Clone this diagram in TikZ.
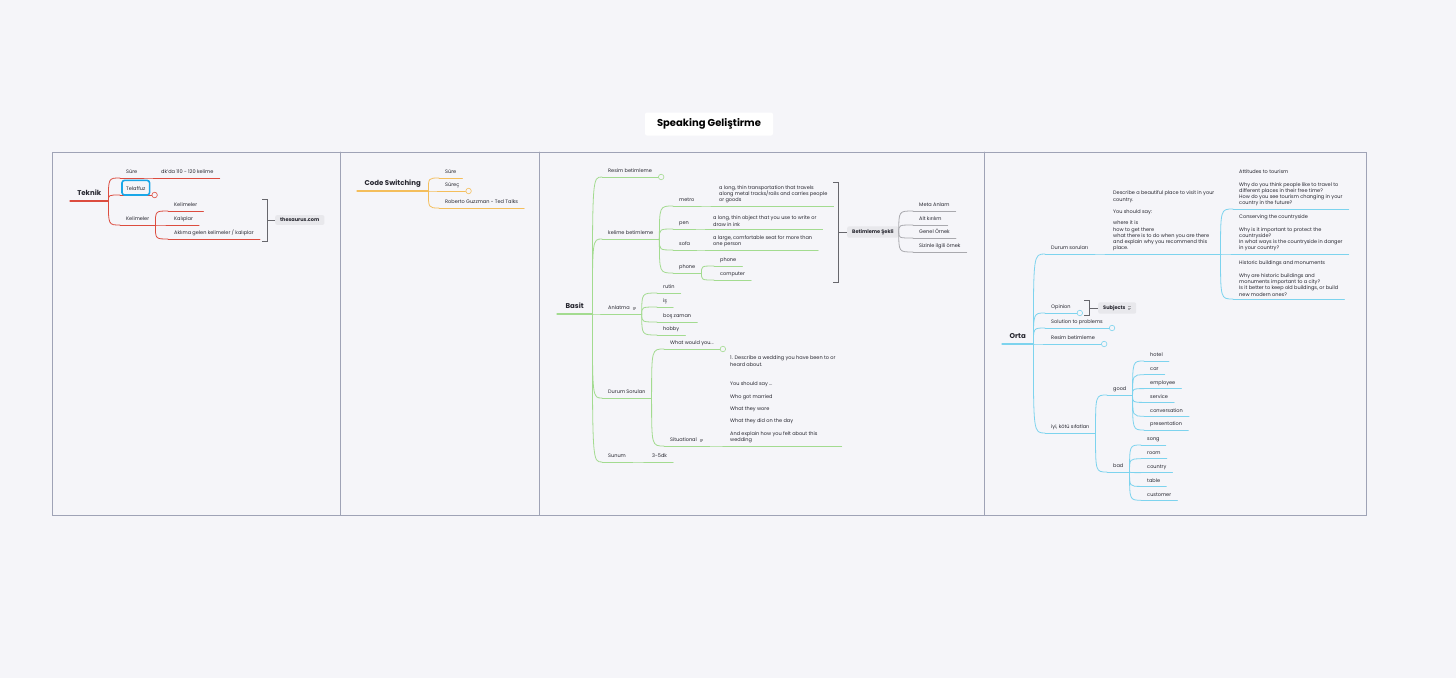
\documentclass[tikz,border=0pt]{standalone}
\usepackage{fontspec}
\setmainfont{Poppins}
\usetikzlibrary{positioning,calc}
\definecolor{bg}{HTML}{F5F5F9}
\definecolor{ink}{HTML}{26262F}
\definecolor{framec}{HTML}{9FA3B6}
\definecolor{cred}{HTML}{DC4C3F}
\definecolor{corange}{HTML}{F4BE5C}
\definecolor{cgreen}{HTML}{A3DB90}
\definecolor{ccyan}{HTML}{7DD3EE}
\definecolor{cgrey}{HTML}{A9A9AE}
\definecolor{boxgrey}{HTML}{E8E8EC}
\definecolor{selblue}{HTML}{1AA7E8}
\newcommand\noteic{\hspace{3pt}{\color{cgrey}\raisebox{.3pt}{\vbox{\hrule width 2.8pt height .4pt\kern.7pt\hrule width 2.8pt height .4pt\kern.7pt\hrule width 1.8pt height .4pt}}}}

\begin{document}
\begin{tikzpicture}[x=1pt, y=-1pt, line cap=round, font=\fontsize{5}{6.3}\selectfont]
  \tikzstyle{topic} = [anchor=south west, inner xsep=6, inner ysep=2.6, text height=3.7, text depth=1.3, text=ink,
                       append after command={(\tikzlastnode.south west) edge[brc] (\tikzlastnode.south east)}]
  \tikzstyle{desc}  = [anchor=south west, inner xsep=6, inner ysep=2.6, text=ink, align=left,
                       append after command={(\tikzlastnode.south west) edge[brc] (\tikzlastnode.south east)}]
  \tikzstyle{root}  = [anchor=south west, inner xsep=0, inner ysep=3.5, text height=5, text depth=1.4, text=ink,
                       font=\fontsize{7}{8}\selectfont\bfseries,
                       append after command={(\tikzlastnode.south west) edge[brc, line width=1.3] (\tikzlastnode.south east)}]
  \tikzstyle{fold}  = [circle, brc, fill=bg, inner sep=0, minimum size=5.5, line width=.6]
  \tikzstyle{sumbox} = [fill=boxgrey, rounded corners=2, inner xsep=5, inner ysep=3, text=ink, font=\fontsize{5}{6}\selectfont\bfseries]
  \tikzstyle{summ}  = [draw=ink!70, line width=.7, line cap=butt]
  \tikzset{br/.style={to path={.. controls (\tikztostart |- \tikztotarget) .. (\tikztotarget)}}}

  \fill[bg] (0,0) rectangle (1456,678);
  \node[fill=white, rounded corners=2, minimum width=128, minimum height=23, text=black,
        font=\fontsize{10}{12}\selectfont\bfseries] (title) at (709,124) {Speaking Geliştirme};
  \draw[framec, line width=.9] (52,152) rectangle (1366,515);
  \foreach \x in {340,539,984} \draw[framec, line width=.9] (\x,152) -- (\x,515);

  % Teknik
  \begin{scope}[brc/.style={draw=cred, line width=.8}]
    \node[root, minimum width=38] (tek)  at (70,201)  {Teknik};
    \node[topic]                  (sure) at (120,178) {Süre};
    \node[topic]                  (dk)   at (155,178) {dk'da 110 - 120 kelime};
    \node[topic]                  (tel)  at (120,195) {Telaffuz};
    \node[fold, right=0pt of tel.south east] (telf) {};
    \node[topic]                  (kel)  at (120,225) {Kelimeler};
    \node[topic]                  (kel1) at (168,211) {Kelimeler};
    \node[topic]                  (kel2) at (168,225) {Kalıplar};
    \node[topic]                  (kel3) at (168,239) {Aklıma gelen kelimeler / kalıplar};
    \draw[selblue, line width=1.6, rounded corners=2.5] ($(tel.south west)+(2,0)$) rectangle ($(tel.north east)+(-2,-4)$);

    \foreach \c in {sure,tel,kel} \draw[brc] (tek.south east) to[br] (\c.south west);
    \draw[brc] (sure.south east) to[br] (dk.south west);
    \foreach \c in {kel1,kel2,kel3} \draw[brc] (kel.south east) to[br] (\c.south west);

    \coordinate (bk1) at (267,220);
    \draw[summ] ($(bk1)+(-5,-21)$) -| ($(bk1)+(0,21)$) -- +(-5,0);
    \node[sumbox, right=8pt of bk1] (thes) {thesaurus.com};
    \draw[summ] (bk1) -- (thes);
  \end{scope}

  % Code Switching
  \begin{scope}[brc/.style={draw=corange, line width=.8}]
    \node[root, minimum width=71] (cs)  at (357,191) {Code Switching};
    \node[topic]                  (cs1) at (439,178) {Süre};
    \node[topic]                  (cs2) at (439,191) {Süreç};
    \node[fold, right=0pt of cs2.south east] (cs2f) {};
    \node[topic]                  (cs3) at (439,208) {Roberto Guzzman - Ted Talks};

    \foreach \c in {cs1,cs2,cs3} \draw[brc] (cs.south east) to[br] (\c.south west);
  \end{scope}

  % Basit
  \begin{scope}[brc/.style={draw=cgreen, line width=.8}]
    \node[root, minimum width=35] (bas)  at (557,314) {Basit};
    \node[topic]                  (b1)   at (602,177) {Resim betimleme};
    \node[fold, right=0pt of b1.south east] (b1f) {};
    \node[topic]                  (b2)   at (602,239) {kelime betimleme};
    \node[topic]                  (b21)  at (673,206) {metro};
    \node[desc]                   (b21d) at (713,206) {a long, thin transportation that travels\\along metal tracks/rails and carries people\\or goods};
    \node[topic]                  (b22)  at (673,229) {pen};
    \node[desc]                   (b22d) at (707,229) {a long, thin object that you use to write or\\draw in ink};
    \node[topic]                  (b23)  at (673,250) {sofa};
    \node[desc]                   (b23d) at (707,250) {a large, comfortable seat for more than\\one person};
    \node[topic]                  (b24)  at (673,273) {phone};
    \node[topic]                  (b241) at (714,266) {phone};
    \node[topic]                  (b242) at (714,280) {computer};
    \node[topic]                  (b3)   at (602,314) {Anlatma\noteic};
    \node[topic]                  (b31)  at (657,293) {rutin};
    \node[topic]                  (b32)  at (657,307) {iş};
    \node[topic]                  (b33)  at (657,322) {boş zaman};
    \node[topic]                  (b34)  at (657,335) {hobby};
    \node[topic]                  (b4)   at (602,398) {Durum Soruları};
    \node[topic]                  (b41)  at (664,349) {What would you...};
    \node[fold, right=0pt of b41.south east] (b41f) {};
    \node[topic]                  (b42)  at (664,446) {Situational\noteic};
    \node[desc]                   (b42d) at (724,446) {1. Describe a wedding you have been to or\\heard about.\\[13pt]You should say ...\\[6.5pt]Who got married\\[6pt]What they wore\\[6pt]What they did on the day\\[6.5pt]And explain how you felt about this\\wedding};
    \node[topic]                  (b5)   at (602,462) {Sunum};
    \node[topic]                  (b51)  at (646,462) {3-5dk};

    \foreach \c in {b1,b2,b3,b4,b5} \draw[brc] (bas.south east) to[br] (\c.south west);
    \foreach \c in {b21,b22,b23,b24} \draw[brc] (b2.south east) to[br] (\c.south west);
    \draw[brc] (b21.south east) to[br] (b21d.south west);
    \draw[brc] (b22.south east) to[br] (b22d.south west);
    \draw[brc] (b23.south east) to[br] (b23d.south west);
    \foreach \c in {b241,b242} \draw[brc] (b24.south east) to[br] (\c.south west);
    \foreach \c in {b31,b32,b33,b34} \draw[brc] (b3.south east) to[br] (\c.south west);
    \foreach \c in {b41,b42} \draw[brc] (b4.south east) to[br] (\c.south west);
    \draw[brc] (b42.south east) to[br] (b42d.south west);
    \draw[brc] (b5.south east) to[br] (b51.south west);
  \end{scope}

  % Betimleme Sekli
  \begin{scope}[brc/.style={draw=cgrey, line width=.8}]
    \coordinate (bk2) at (838,232);
    \draw[summ] ($(bk2)+(-5,-50)$) -| ($(bk2)+(0,50)$) -- +(-5,0);
    \node[sumbox, right=9pt of bk2] (bsk) {Betimleme Şekli};
    \draw[summ] (bk2) -- (bsk);
    \node[topic] (s1) at (913,211) {Meta Anlam};
    \node[topic] (s2) at (913,225) {Alt kırılım};
    \node[topic] (s3) at (913,238) {Genel Örnek};
    \node[topic] (s4) at (913,252) {Sizinle ilgili örnek};

    \foreach \c in {s1,s2,s3,s4} \draw[brc] (bsk.east) to[br] (\c.south west);
  \end{scope}

  % Orta
  \begin{scope}[brc/.style={draw=ccyan, line width=.8}]
    \node[root, minimum width=31] (orta) at (1002,344) {Orta};
    \node[topic]                  (o1)   at (1045,254) {Durum soruları};
    \node[desc]                   (o1d)  at (1107,254) {Describe a beautiful place to visit in your\\country.\\[6pt]You should say:\\[5pt]where it is\\how to get there\\what there is to do when you are there\\and explain why you recommend this\\place.};
    \node[desc]                   (o11)  at (1233,209) {Attitudes to tourism\\[6pt]Why do you think people like to travel to\\different places in their free time?\\How do you see tourism changing in your\\country in the future?};
    \node[desc]                   (o12)  at (1233,254) {Conserving the countryside\\[6pt]Why is it important to protect the\\countryside?\\In what ways is the countryside in danger\\in your country?};
    \node[desc]                   (o13)  at (1233,299) {Historic buildings and monuments\\[6pt]Why are historic buildings and\\monuments important to a city?\\Is it better to keep old buildings, or build\\new modern ones?};
    \node[topic]                  (o2)   at (1045,313) {Opinion};
    \node[fold, right=0pt of o2.south east] (o2f) {};
    \node[topic]                  (o3)   at (1045,328) {Solution to problems};
    \node[fold, right=0pt of o3.south east] (o3f) {};
    \node[topic]                  (o4)   at (1045,344) {Resim betimleme};
    \node[fold, right=0pt of o4.south east] (o4f) {};
    \node[topic]                  (o5)   at (1045,433) {iyi, kötü sıfatları};
    \node[topic]                  (good) at (1107,395) {good};
    \node[topic]                  (bad)  at (1107,472) {bad};
    \foreach \w [count=\i] in {hotel,car,employee,service,conversation,presentation}
      \node[topic] (g\i) at (1144,347.2+13.8*\i) {\w};
    \foreach \w [count=\i] in {song,room,country,table,customer}
      \node[topic] (k\i) at (1141,431.2+13.8*\i) {\w};

    \foreach \c in {o1,o2,o3,o4,o5} \draw[brc] (orta.south east) to[br] (\c.south west);
    \draw[brc] (o1.south east) to[br] (o1d.south west);
    \foreach \c in {o11,o12,o13} \draw[brc] (o1d.south east) to[br] (\c.south west);
    \foreach \c in {good,bad} \draw[brc] (o5.south east) to[br] (\c.south west);
    \foreach \i in {1,...,6} \draw[brc] (good.south east) to[br] (g\i.south west);
    \foreach \i in {1,...,5} \draw[brc] (bad.south east) to[br] (k\i.south west);

    \coordinate (bk3) at (1089,308);
    \draw[summ] ($(bk3)+(-5,-7.5)$) -| ($(bk3)+(0,7.5)$) -- +(-5,0);
    \node[sumbox, right=9pt of bk3] (subj) {Subjects\noteic};
    \draw[summ] (bk3) -- (subj);
  \end{scope}
\end{tikzpicture}
\end{document}
